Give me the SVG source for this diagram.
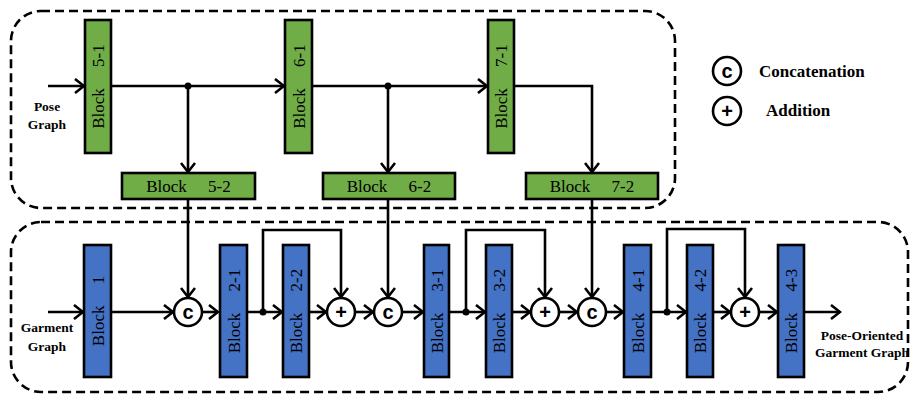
<svg xmlns="http://www.w3.org/2000/svg" width="911" height="394" viewBox="0 0 911 394">
  <style>
    .frame { fill: none; stroke: #000; stroke-width: 2.6; stroke-dasharray: 9 5; }
    .green { fill: #70AD47; stroke: #000; stroke-width: 2.6; }
    .blue { fill: #4472C4; stroke: #000; stroke-width: 2.6; }
    .lbl { font-family: "Liberation Serif", "Times New Roman", serif; font-size: 17px; fill: #000; text-anchor: middle; white-space: pre; }
    .io { font-family: "Liberation Serif", "Times New Roman", serif; font-size: 13.5px; font-weight: bold; fill: #000; text-anchor: middle; }
    .legend { font-family: "Liberation Serif", "Times New Roman", serif; font-size: 17px; font-weight: bold; fill: #000; }
    .op { fill: #fff; stroke: #000; stroke-width: 2.6; }
    .sym { font-family: "Liberation Sans", Arial, sans-serif; font-size: 20px; font-weight: bold; fill: #000; text-anchor: middle; }
    .wire { fill: none; stroke: #000; stroke-width: 2.6; }
    .arr { marker-end: url(#head); }
  </style>
  <defs>
    <marker id="head" markerUnits="userSpaceOnUse" markerWidth="14" markerHeight="16" viewBox="-12 -8 14 16" refX="0" refY="0" orient="auto">
      <path d="M-9,-7 L0,0 L-9,7" fill="none" stroke="#000" stroke-width="2.6"/>
    </marker>
  </defs>

  <!-- dashed frames -->
  <rect class="frame" x="11" y="11" width="664" height="197" rx="30" ry="30"/>
  <rect class="frame" x="11" y="222" width="897" height="170" rx="30" ry="30"/>

  <!-- connectors -->
  <g id="connectors">
    <!-- pose branch -->
    <line class="wire arr" x1="48" y1="86" x2="84" y2="86"/>
    <line class="wire arr" x1="111" y1="86" x2="284" y2="86"/>
    <line class="wire arr" x1="312" y1="86" x2="487" y2="86"/>
    <circle cx="188" cy="86" r="3.5" fill="#000"/>
    <circle cx="388" cy="86" r="3.5" fill="#000"/>
    <line class="wire arr" x1="188" y1="86" x2="188" y2="172"/>
    <line class="wire arr" x1="388" y1="86" x2="388" y2="172"/>
    <polyline class="wire arr" points="514,86 592,86 592,172"/>
    <!-- pose to concatenation -->
    <line class="wire arr" x1="188" y1="199" x2="188" y2="297"/>
    <line class="wire arr" x1="388" y1="199" x2="388" y2="297"/>
    <line class="wire arr" x1="592" y1="199" x2="592" y2="297"/>
    <!-- garment branch -->
    <line class="wire arr" x1="48" y1="312" x2="83" y2="312"/>
    <line class="wire arr" x1="111" y1="312" x2="173" y2="312"/>
    <line class="wire arr" x1="203" y1="312" x2="218" y2="312"/>
    <line class="wire arr" x1="247" y1="312" x2="282" y2="312"/>
    <line class="wire arr" x1="309" y1="312" x2="326" y2="312"/>
    <line class="wire arr" x1="356" y1="312" x2="373" y2="312"/>
    <line class="wire arr" x1="403" y1="312" x2="423" y2="312"/>
    <line class="wire arr" x1="449" y1="312" x2="485" y2="312"/>
    <line class="wire arr" x1="512" y1="312" x2="530" y2="312"/>
    <line class="wire arr" x1="560" y1="312" x2="577" y2="312"/>
    <line class="wire arr" x1="607" y1="312" x2="623" y2="312"/>
    <line class="wire arr" x1="651" y1="312" x2="686" y2="312"/>
    <line class="wire arr" x1="713" y1="312" x2="730" y2="312"/>
    <line class="wire arr" x1="760" y1="312" x2="777" y2="312"/>
    <line class="wire arr" x1="804" y1="312" x2="840" y2="312"/>
    <!-- residual skips -->
    <polyline class="wire arr" points="263,312 263,230 341,230 341,297"/>
    <polyline class="wire arr" points="466,312 466,230 545,230 545,297"/>
    <polyline class="wire arr" points="667,312 667,229 745,229 745,297"/>
    <circle cx="263" cy="312" r="3.5" fill="#000"/>
    <circle cx="466" cy="312" r="3.5" fill="#000"/>
    <circle cx="667" cy="312" r="3.5" fill="#000"/>
  </g>

  <!-- pose graph blocks -->
  <g id="block5-1">
    <rect class="green" x="85" y="20" width="26" height="133"/>
    <text class="lbl" transform="translate(104,86.5) rotate(-90)" xml:space="preserve">Block     5-1</text>
  </g>
  <g id="block6-1">
    <rect class="green" x="285" y="20" width="27" height="133"/>
    <text class="lbl" transform="translate(304.5,86.5) rotate(-90)" xml:space="preserve">Block     6-1</text>
  </g>
  <g id="block7-1">
    <rect class="green" x="488" y="20" width="26" height="133"/>
    <text class="lbl" transform="translate(507,86.5) rotate(-90)" xml:space="preserve">Block     7-1</text>
  </g>
  <g id="block5-2">
    <rect class="green" x="122" y="173" width="133" height="26"/>
    <text class="lbl" x="188.5" y="192" xml:space="preserve">Block     5-2</text>
  </g>
  <g id="block6-2">
    <rect class="green" x="323" y="173" width="132" height="26"/>
    <text class="lbl" x="389" y="192" xml:space="preserve">Block     6-2</text>
  </g>
  <g id="block7-2">
    <rect class="green" x="526" y="173" width="132" height="26"/>
    <text class="lbl" x="592" y="192" xml:space="preserve">Block     7-2</text>
  </g>

  <!-- garment graph blocks -->
  <g id="block1">
    <rect class="blue" x="84" y="245" width="27" height="132"/>
    <text class="lbl" transform="translate(103.5,311) rotate(-90)" xml:space="preserve">Block     1</text>
  </g>
  <g id="block2-1">
    <rect class="blue" x="220" y="245" width="27" height="132"/>
    <text class="lbl" transform="translate(239.5,311) rotate(-90)" xml:space="preserve">Block     2-1</text>
  </g>
  <g id="block2-2">
    <rect class="blue" x="283" y="245" width="26" height="132"/>
    <text class="lbl" transform="translate(302,311) rotate(-90)" xml:space="preserve">Block     2-2</text>
  </g>
  <g id="block3-1">
    <rect class="blue" x="424" y="245" width="25" height="132"/>
    <text class="lbl" transform="translate(442.5,311) rotate(-90)" xml:space="preserve">Block     3-1</text>
  </g>
  <g id="block3-2">
    <rect class="blue" x="486" y="245" width="26" height="132"/>
    <text class="lbl" transform="translate(505,311) rotate(-90)" xml:space="preserve">Block     3-2</text>
  </g>
  <g id="block4-1">
    <rect class="blue" x="624" y="245" width="27" height="132"/>
    <text class="lbl" transform="translate(643.5,311) rotate(-90)" xml:space="preserve">Block     4-1</text>
  </g>
  <g id="block4-2">
    <rect class="blue" x="687" y="245" width="26" height="132"/>
    <text class="lbl" transform="translate(706,311) rotate(-90)" xml:space="preserve">Block     4-2</text>
  </g>
  <g id="block4-3">
    <rect class="blue" x="778" y="245" width="26" height="132"/>
    <text class="lbl" transform="translate(797,311) rotate(-90)" xml:space="preserve">Block     4-3</text>
  </g>

  <!-- operators -->
  <g id="concat1"><circle class="op" cx="188" cy="312" r="14"/><text class="sym" x="188" y="319">c</text></g>
  <g id="add1"><circle class="op" cx="341" cy="312" r="14"/><text class="sym" x="341" y="319">+</text></g>
  <g id="concat2"><circle class="op" cx="388" cy="312" r="14"/><text class="sym" x="388" y="319">c</text></g>
  <g id="add2"><circle class="op" cx="545" cy="312" r="14"/><text class="sym" x="545" y="319">+</text></g>
  <g id="concat3"><circle class="op" cx="592" cy="312" r="14"/><text class="sym" x="592" y="319">c</text></g>
  <g id="add3"><circle class="op" cx="745" cy="312" r="14"/><text class="sym" x="745" y="319">+</text></g>

  <!-- inputs / output labels -->
  <g id="pose-input">
    <text class="io" x="47" y="111">Pose</text>
    <text class="io" x="47" y="129">Graph</text>
  </g>
  <g id="garment-input">
    <text class="io" x="47" y="332">Garment</text>
    <text class="io" x="47" y="351">Graph</text>
  </g>
  <g id="output">
    <text class="io" x="862" y="340">Pose-Oriented</text>
    <text class="io" x="862" y="357">Garment Graph</text>
  </g>

  <!-- legend -->
  <g id="legend">
    <circle class="op" cx="727" cy="71" r="14"/>
    <text class="sym" x="727" y="78">c</text>
    <text class="legend" x="759" y="77">Concatenation</text>
    <circle class="op" cx="727" cy="111" r="14"/>
    <text class="sym" x="727" y="118">+</text>
    <text class="legend" x="766" y="116">Addition</text>
  </g>
</svg>
